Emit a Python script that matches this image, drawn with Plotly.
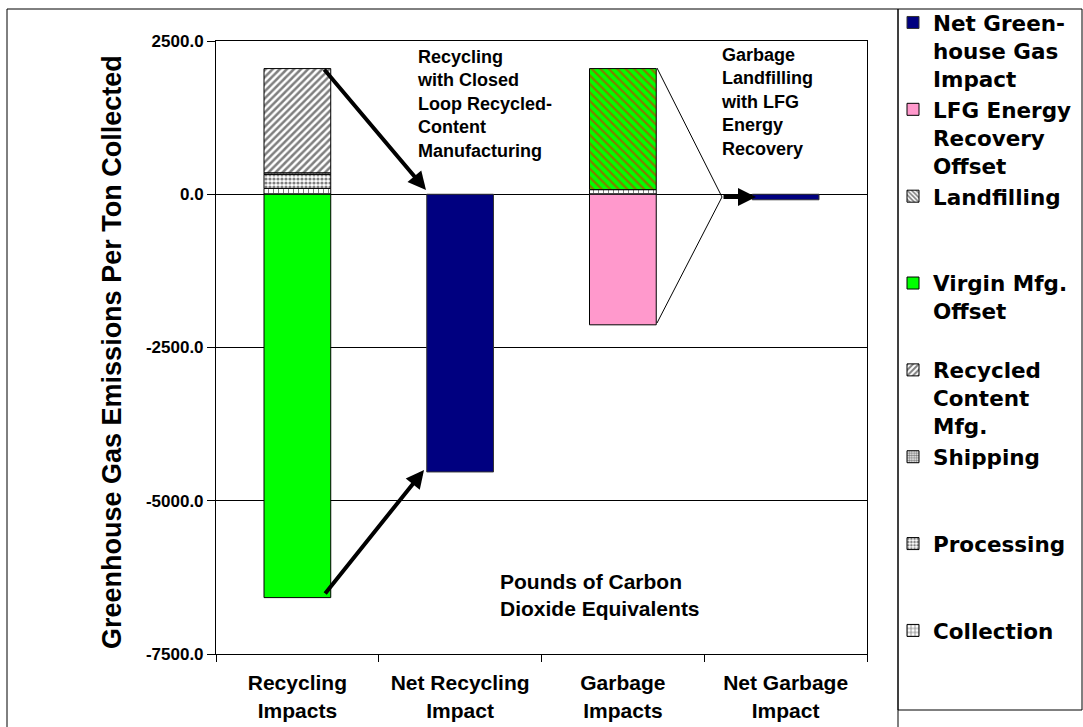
import plotly.graph_objects as go

# ---------------- data ----------------
categories = ["Recycling<br>Impacts", "Net Recycling<br>Impact", "Garbage<br>Impacts", "Net Garbage<br>Impact"]
collection = [95, None, 75, None]
processing = [230, None, None, None]
shipping = [25, None, None, None]
recycled_content_mfg = [1700, None, None, None]
virgin_mfg_offset = [-6580, None, None, None]
landfilling = [None, None, 1975, None]
lfg_energy_offset = [None, None, -2130, None]
net_ghg_impact = [None, -4530, None, -90]

y_tick_vals = [2500, 0, -2500, -5000, -7500]
y_tick_text = ["2500.0", "0.0", "-2500.0", "-5000.0", "-7500.0"]

# ---------------- layout helpers ----------------
W, H = 1083, 727
L, R, T, B = 216, 867, 41, 654


def xp(px):
    return (px - L) / (R - L)


def yp(py):
    return (B - py) / (B - T)


ARIAL = "Liberation Sans, Arial, sans-serif"
edge = dict(color="black", width=1)

fig = go.Figure()

fig.add_trace(go.Bar(x=categories, y=collection, name="Collection<br> <br> ",
                     marker=dict(color="white", line=edge,
                                 pattern=dict(shape="+", fgcolor="black", bgcolor="white", size=5, solidity=0.35))))
fig.add_trace(go.Bar(x=categories, y=processing, name="Processing<br> <br> ",
                     marker=dict(color="white", line=edge,
                                 pattern=dict(shape=".", fgcolor="black", bgcolor="white", size=4, solidity=0.5))))
fig.add_trace(go.Bar(x=categories, y=shipping, name="Shipping<br> <br> ",
                     marker=dict(color="white", line=edge,
                                 pattern=dict(shape=".", fgcolor="black", bgcolor="white", size=3, solidity=0.6))))
fig.add_trace(go.Bar(x=categories, y=recycled_content_mfg, name="Recycled<br>Content<br>Mfg.",
                     marker=dict(color="white", line=edge,
                                 pattern=dict(shape="/", fgcolor="black", bgcolor="white", size=5, solidity=0.5))))
fig.add_trace(go.Bar(x=categories, y=virgin_mfg_offset, name="Virgin Mfg.<br>Offset<br> ",
                     marker=dict(color="#00FF00", line=edge)))
# Landfilling: bar drawn red-on-green, legend key black/white
fig.add_trace(go.Bar(x=categories, y=landfilling, name="Landfilling", showlegend=False,
                     marker=dict(color="#00FF00", line=edge,
                                 pattern=dict(shape="\\", fgcolor="#FF0000", bgcolor="#00FF00", size=6, solidity=0.4))))
fig.add_trace(go.Bar(x=[categories[2]], y=[None], name="Landfilling<br> <br> ",
                     marker=dict(color="white", line=edge,
                                 pattern=dict(shape="\\", fgcolor="black", bgcolor="white", size=4, solidity=0.5))))
fig.add_trace(go.Bar(x=categories, y=lfg_energy_offset, name="LFG Energy<br>Recovery<br>Offset",
                     marker=dict(color="#FF99CC", line=edge)))
fig.add_trace(go.Bar(x=categories, y=net_ghg_impact, name="Net Green-<br>house Gas<br>Impact",
                     marker=dict(color="#000080", line=dict(color="#333333", width=1))))

# ---------------- annotations ----------------
ann = []
ann.append(dict(xref="paper", yref="paper", x=xp(112), y=yp(352), text="<b>Greenhouse Gas Emissions Per Ton Collected</b>",
                textangle=-90, showarrow=False, font=dict(family=ARIAL, size=27, color="black"),
                xanchor="center", yanchor="middle"))
ann.append(dict(xref="paper", yref="paper", x=xp(415), y=yp(104),
                text="<b>Recycling<br>with Closed<br>Loop Recycled-<br>Content<br>Manufacturing</b>",
                showarrow=False, align="left", xanchor="left", yanchor="middle",
                font=dict(family=ARIAL, size=18, color="black")))
ann.append(dict(xref="paper", yref="paper", x=xp(719), y=yp(102),
                text="<b>Garbage<br>Landfilling<br>with LFG<br>Energy<br>Recovery</b>",
                showarrow=False, align="left", xanchor="left", yanchor="middle",
                font=dict(family=ARIAL, size=18, color="black")))
ann.append(dict(xref="paper", yref="paper", x=xp(498), y=yp(595),
                text="<b>Pounds of Carbon<br>Dioxide Equivalents</b>",
                showarrow=False, align="left", xanchor="left", yanchor="middle",
                font=dict(family=ARIAL, size=21, color="black")))


def arrow(tail, head, width=4):
    return dict(xref="paper", yref="paper", x=xp(head[0]), y=yp(head[1]), ax=tail[0] - head[0], ay=tail[1] - head[1],
                axref="pixel", ayref="pixel", text="", showarrow=True, arrowhead=2, arrowsize=0.9,
                arrowwidth=width, arrowcolor="black", standoff=0, startstandoff=0)


ann.append(arrow((323, 68), (426, 190)))
ann.append(arrow((324, 595), (424, 470)))
ann.append(arrow((722, 197), (756, 197)))

shapes = [
    # outer chart border
    dict(type="rect", xref="paper", yref="paper", x0=xp(7), x1=xp(898), y0=yp(745), y1=yp(9),
         line=dict(color="black", width=1), layer="below"),
    # legend box
    dict(type="rect", xref="paper", yref="paper", x0=xp(898), x1=xp(1082), y0=yp(710), y1=yp(9),
         line=dict(color="black", width=1), layer="below"),
    # thin lines from garbage bar to net garbage arrow
    dict(type="line", xref="paper", yref="paper", x0=xp(657), y0=yp(68), x1=xp(722), y1=yp(197),
         line=dict(color="black", width=1)),
    dict(type="line", xref="paper", yref="paper", x0=xp(657), y0=yp(323), x1=xp(722), y1=yp(197),
         line=dict(color="black", width=1)),
]

fig.update_layout(
    width=W, height=H,
    margin=dict(l=L, r=W - R, t=T, b=H - B, autoexpand=False),
    paper_bgcolor="white", plot_bgcolor="white",
    barmode="relative", bargap=0.59,
    font=dict(family=ARIAL, color="black"),
    xaxis=dict(showline=True, mirror=True, linecolor="black", linewidth=1,
               ticks="outside", ticklen=7, tickcolor="black", tickson="boundaries",
               tickfont=dict(family=ARIAL, size=21, weight="bold", color="black"),
               ticklabelstandoff=10, showgrid=False),
    yaxis=dict(range=[-7500, 2500], tickvals=y_tick_vals, ticktext=y_tick_text,
               showline=True, mirror=True, linecolor="black", linewidth=1,
               ticks="outside", ticklen=8, tickcolor="black",
               tickfont=dict(family=ARIAL, size=17, weight="bold", color="black"),
               showgrid=True, gridcolor="black", gridwidth=1,
               zeroline=True, zerolinecolor="black", zerolinewidth=1),
    legend=dict(x=xp(893), y=1.0 - 2 / H, xref="paper", yref="container", xanchor="left", yanchor="top",
                traceorder="reversed", maxheight=725,
                font=dict(family="DejaVu Sans", size=21.5, weight="bold", color="black"),
                bgcolor="rgba(0,0,0,0)", borderwidth=0, valign="top"),
    annotations=ann,
    shapes=shapes,
)

fig.write_html("out.html")
